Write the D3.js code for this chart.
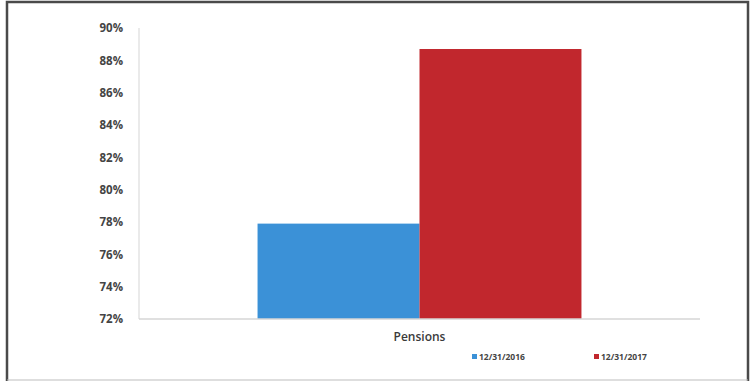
<!DOCTYPE html>
<html>
<head>
<meta charset="utf-8">
<script src="https://cdn.jsdelivr.net/npm/d3@7/dist/d3.min.js"></script>
<style>
  html, body { margin: 0; padding: 0; background: #fff; }
  svg { display: block; }
</style>
</head>
<body>
<svg id="chart" width="755" height="381"></svg>
<script>
// Funded ratio by period
const categories = ["Pensions"];
const seriesNames = ["12/31/2016", "12/31/2017"];
const values2016 = [77.9];
const values2017 = [88.7];
const yTicks = [72, 74, 76, 78, 80, 82, 84, 86, 88, 90];
const colors = ["#3b91d7", "#c1272d"];

const svg = d3.select("#chart");

// outer frame: dark top and sides, faint bottom edge
svg.append("path")
  .attr("d", "M7,381 L7,2 L748,2 L748,381")
  .attr("fill", "none")
  .attr("stroke", "#4a4a4a").attr("stroke-width", 2.5);
svg.append("line")
  .attr("x1", 7).attr("x2", 748).attr("y1", 380).attr("y2", 380)
  .attr("stroke", "#bdbdbd").attr("stroke-width", 1);

const plot = { left: 139, right: 700, top: 28, bottom: 319 };

const y = d3.scaleLinear().domain([72, 90]).range([plot.bottom, plot.top]);
const x0 = d3.scaleBand().domain(categories).range([plot.left, plot.right])
  .paddingInner(0).paddingOuter(0.366);
const x1 = d3.scaleBand().domain(seriesNames).range([0, x0.bandwidth()]).padding(0);

const rows = categories.map((c, i) => ({ cat: c, vals: [values2016[i], values2017[i]] }));

// value axis line
svg.append("line")
  .attr("x1", plot.left).attr("x2", plot.left)
  .attr("y1", plot.top).attr("y2", plot.bottom)
  .attr("stroke", "#dcdcdc").attr("stroke-width", 1.2);

// bars
const g = svg.append("g");
rows.forEach(r => {
  g.selectAll(null)
    .data(r.vals.map((v, j) => ({ v, s: seriesNames[j], j })))
    .enter().append("rect")
    .attr("x", d => x0(r.cat) + x1(d.s))
    .attr("y", d => y(d.v))
    .attr("width", x1.bandwidth())
    .attr("height", d => y(72) - y(d.v))
    .attr("fill", d => colors[d.j]);
});

// category axis line
svg.append("line")
  .attr("x1", plot.left).attr("x2", plot.right)
  .attr("y1", plot.bottom).attr("y2", plot.bottom)
  .attr("stroke", "#d6d6d6").attr("stroke-width", 1.5);

// y axis tick labels
const yAxis = d3.axisLeft(y).tickValues(yTicks).tickSize(0).tickPadding(0)
  .tickFormat(d => d + "%");
const ya = svg.append("g").attr("transform", "translate(123,0)").call(yAxis);
ya.select(".domain").remove();
ya.selectAll("text")
  .attr("font-family", "'Open Sans', sans-serif")
  .attr("font-size", 11.5).attr("font-weight", 700).attr("fill", "#444");

// category label
const xAxis = d3.axisBottom(x0).tickSize(0).tickPadding(0);
const xa = svg.append("g").attr("transform", `translate(0,${plot.bottom + 13})`).call(xAxis);
xa.select(".domain").remove();
xa.selectAll("text")
  .attr("font-family", "'Open Sans', sans-serif")
  .attr("font-size", 12).attr("font-weight", 600).attr("fill", "#3a3a3a");

// legend
const legendX = [472, 594];
const legend = svg.append("g");
seriesNames.forEach((s, i) => {
  legend.append("rect")
    .attr("x", legendX[i]).attr("y", 354)
    .attr("width", 5).attr("height", 5)
    .attr("fill", colors[i]);
  legend.append("text")
    .attr("x", legendX[i] + 7).attr("y", 359.5)
    .attr("font-family", "'Open Sans', sans-serif")
    .attr("font-size", 8.5).attr("font-weight", 700).attr("fill", "#444")
    .text(s);
});
</script>
</body>
</html>
